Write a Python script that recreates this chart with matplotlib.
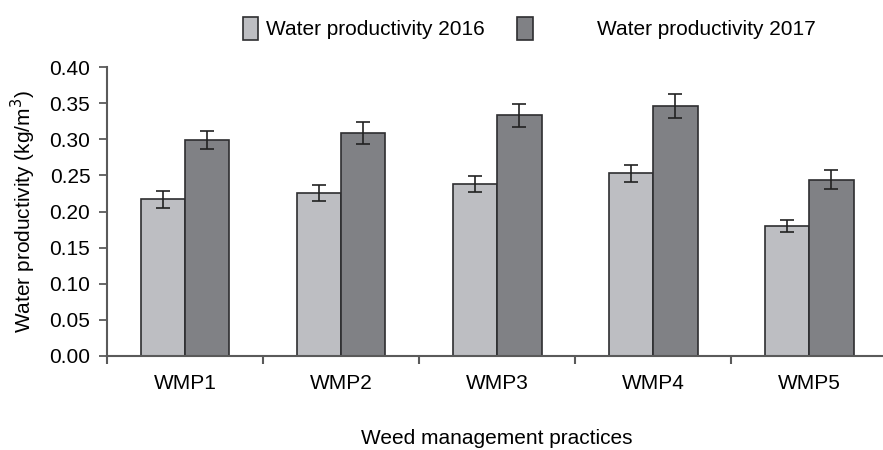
import numpy as np
import matplotlib.pyplot as plt
from matplotlib.patches import Patch

plt.rcParams['font.family'] = ['Liberation Sans', 'DejaVu Sans']

categories = ['WMP1', 'WMP2', 'WMP3', 'WMP4', 'WMP5']
wp_2016 = [0.217, 0.225, 0.238, 0.253, 0.180]
wp_2017 = [0.299, 0.309, 0.333, 0.346, 0.244]
err_2016 = [0.012, 0.011, 0.011, 0.012, 0.008]
err_2017 = [0.012, 0.015, 0.016, 0.017, 0.013]

c16 = '#bdbec2'
c17 = '#808185'
edge = '#2e2e30'
axc = '#5a5a5a'
fs = 15

fig = plt.figure(figsize=(8.83, 4.5), dpi=100)
ax = fig.add_axes([0.1212, 0.2089, 0.8834, 0.6422])

x = np.arange(len(categories))
w = 0.285
ax.bar(x - w/2, wp_2016, w, color=c16, edgecolor=edge, linewidth=1.2, zorder=2)
ax.bar(x + w/2, wp_2017, w, color=c17, edgecolor=edge, linewidth=1.2, zorder=2)
ax.errorbar(x - w/2, wp_2016, yerr=err_2016, fmt='none', ecolor='#222222',
            elinewidth=1.2, capsize=4.7, capthick=1.2, zorder=3)
ax.errorbar(x + w/2, wp_2017, yerr=err_2017, fmt='none', ecolor='#222222',
            elinewidth=1.2, capsize=4.7, capthick=1.2, zorder=3)

ax.set_xlim(-0.5, 4.5)
ax.set_ylim(0, 0.40)
ax.set_yticks(np.arange(0, 0.41, 0.05))
ax.set_yticklabels(['%.2f' % v for v in np.arange(0, 0.41, 0.05)])
ax.set_xticks(x)
ax.set_xticklabels(categories)
ax.set_xticks(np.arange(-0.5, 4.5, 1.0), minor=True)
ax.tick_params(axis='x', which='major', length=0, pad=13, labelsize=fs)
ax.tick_params(axis='x', which='minor', length=6, width=1.5, color=axc)
ax.tick_params(axis='y', length=6, width=1.3, color=axc, labelsize=fs, pad=6)

for s in ['top', 'right']:
    ax.spines[s].set_visible(False)
for s in ['left', 'bottom']:
    ax.spines[s].set_color(axc)
    ax.spines[s].set_linewidth(1.5)

ax.set_ylabel('Water productivity (kg/m$^3$)', fontsize=fs, labelpad=8)
ax.set_xlabel('Weed management practices', fontsize=fs, labelpad=26)

h16 = Patch(facecolor=c16, edgecolor=edge, linewidth=1.2)
h17 = Patch(facecolor=c17, edgecolor=edge, linewidth=1.2)
fig.legend([h16], ['Water productivity 2016'], loc='center left',
           bbox_to_anchor=(0.275, 0.937), frameon=False, fontsize=fs,
           handlelength=0.75, handleheight=1.3, handletextpad=0.35,
           borderpad=0, borderaxespad=0)
fig.legend([h17], ['Water productivity 2017'], loc='center left',
           bbox_to_anchor=(0.5855, 0.937), frameon=False, fontsize=fs,
           handlelength=0.75, handleheight=1.3, handletextpad=3.1,
           borderpad=0, borderaxespad=0)

fig.savefig('out.png', dpi=100)
